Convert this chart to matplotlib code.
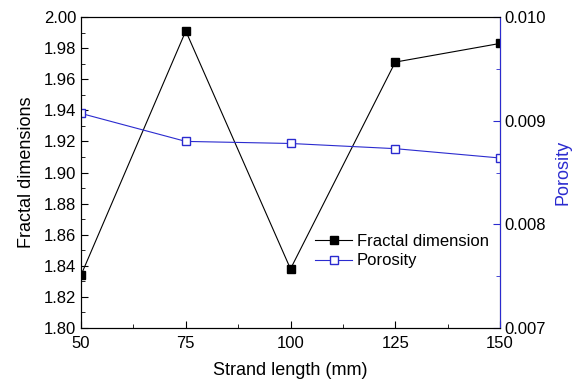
import matplotlib
matplotlib.use('Agg')
import matplotlib.pyplot as plt
from matplotlib.ticker import MultipleLocator

plt.rcParams['font.family'] = ['Liberation Sans', 'DejaVu Sans']

strand_length = [50, 75, 100, 125, 150]
fractal_dim = [1.834, 1.991, 1.838, 1.971, 1.983]
porosity = [0.00907, 0.00880, 0.00878, 0.00873, 0.00864]

blue = '#2b2bcf'

fig = plt.figure(figsize=(5.73, 3.83), dpi=100)
ax = fig.add_axes([0.1414, 0.1436, 0.7312, 0.812])
ax2 = ax.twinx()

l1, = ax.plot(strand_length, fractal_dim, color='black', lw=0.8, marker='s',
              ms=5.5, mfc='black', mec='black', label='Fractal dimension')
l2, = ax2.plot(strand_length, porosity, color=blue, lw=0.8, marker='s',
               ms=5.5, mfc='white', mec=blue, label='Porosity')

ax.set_xlim(50, 150)
ax.set_ylim(1.80, 2.00)
ax2.set_ylim(0.007, 0.010)

ax.xaxis.set_major_locator(MultipleLocator(25))
ax.xaxis.set_minor_locator(MultipleLocator(12.5))
ax.yaxis.set_major_locator(MultipleLocator(0.02))
ax.yaxis.set_minor_locator(MultipleLocator(0.01))
ax2.yaxis.set_major_locator(MultipleLocator(0.001))
ax2.yaxis.set_minor_locator(MultipleLocator(0.0005))
ax.yaxis.set_major_formatter(plt.FormatStrFormatter('%.2f'))
ax2.yaxis.set_major_formatter(plt.FormatStrFormatter('%.3f'))

ax.tick_params(which='both', direction='in', labelsize=12, top=False)
ax.tick_params(axis='x', pad=6)
ax.tick_params(which='major', length=5)
ax.tick_params(which='minor', length=3)
ax2.tick_params(which='both', direction='in', labelsize=12, colors=blue, labelcolor='black')
ax2.tick_params(which='major', length=5)
ax2.tick_params(which='minor', length=3)
ax2.spines['right'].set_color(blue)

ax.set_xlabel('Strand length (mm)', fontsize=13, labelpad=8)
ax.set_ylabel('Fractal dimensions', fontsize=13, labelpad=6)
ax2.set_ylabel('Porosity', fontsize=13, color=blue, labelpad=6)

ax.legend(handles=[l1, l2], loc='upper left', bbox_to_anchor=(0.543, 0.323),
          frameon=False, fontsize=12, handlelength=2.2, handletextpad=0.3,
          labelspacing=0.25, borderaxespad=0)

fig.savefig('out.png', dpi=100)
